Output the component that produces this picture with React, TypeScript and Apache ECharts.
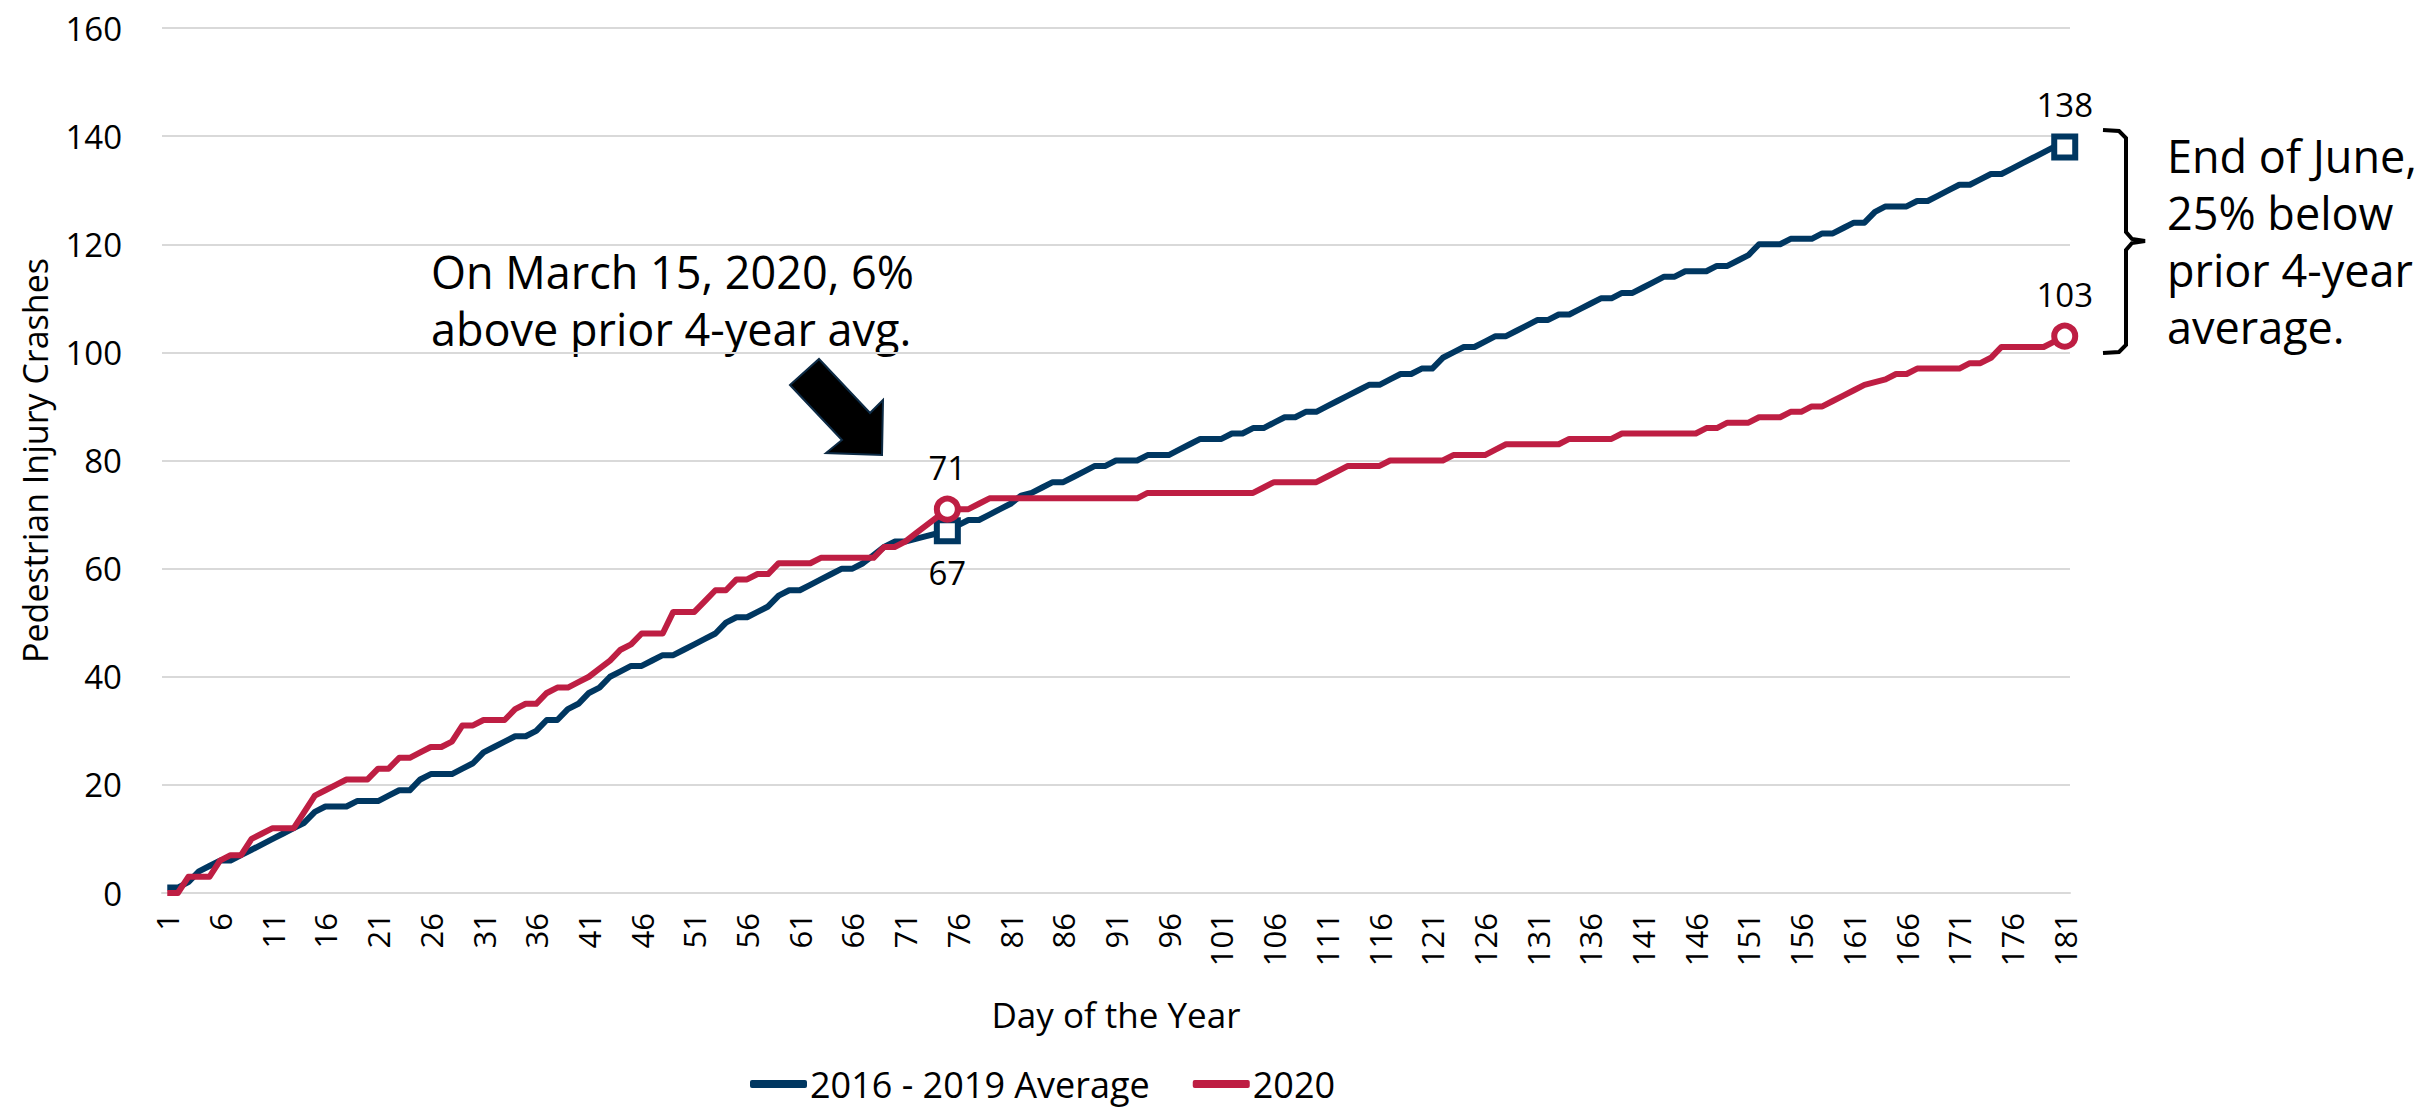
import React, { useEffect, useRef } from "react";
import * as echarts from "echarts";

// Day-of-year categories (1..181)
const days: string[] = Array.from({ length: 181 }, (_, i) => String(i + 1));

// Cumulative pedestrian injury crashes, 2016-2019 average
const avg2016to2019: number[] = [
  1, 1, 2, 4, 5, 6, 6, 7, 8, 9,
  10, 11, 12, 13, 15, 16, 16, 16, 17, 17,
  17, 18, 19, 19, 21, 22, 22, 22, 23, 24,
  26, 27, 28, 29, 29, 30, 32, 32, 34, 35,
  37, 38, 40, 41, 42, 42, 43, 44, 44, 45,
  46, 47, 48, 50, 51, 51, 52, 53, 55, 56,
  56, 57, 58, 59, 60, 60, 61, 62.5, 64, 65,
  65, 65.5, 66, 66.5, 67, 68, 69, 69, 70, 71,
  72, 73.5, 74, 75, 76, 76, 77, 78, 79, 79,
  80, 80, 80, 81, 81, 81, 82, 83, 84, 84,
  84, 85, 85, 86, 86, 87, 88, 88, 89, 89,
  90, 91, 92, 93, 94, 94, 95, 96, 96, 97,
  97, 99, 100, 101, 101, 102, 103, 103, 104, 105,
  106, 106, 107, 107, 108, 109, 110, 110, 111, 111,
  112, 113, 114, 114, 115, 115, 115, 116, 116, 117,
  118, 120, 120, 120, 121, 121, 121, 122, 122, 123,
  124, 124, 126, 127, 127, 127, 128, 128, 129, 130,
  131, 131, 132, 133, 133, 134, 135, 136, 137, 138,
  138,
];

// Cumulative pedestrian injury crashes, 2020
const year2020: number[] = [
  0, 0, 3, 3, 3, 6, 7, 7, 10, 11,
  12, 12, 12, 15, 18, 19, 20, 21, 21, 21,
  23, 23, 25, 25, 26, 27, 27, 28, 31, 31,
  32, 32, 32, 34, 35, 35, 37, 38, 38, 39,
  40, 41.5, 43, 45, 46, 48, 48, 48, 52, 52,
  52, 54, 56, 56, 58, 58, 59, 59, 61, 61,
  61, 61, 62, 62, 62, 62, 62, 62, 64, 64,
  65, 66.5, 68, 69.5, 71, 71, 71, 72, 73, 73,
  73, 73, 73, 73, 73, 73, 73, 73, 73, 73,
  73, 73, 73, 74, 74, 74, 74, 74, 74, 74,
  74, 74, 74, 74, 75, 76, 76, 76, 76, 76,
  77, 78, 79, 79, 79, 79, 80, 80, 80, 80,
  80, 80, 81, 81, 81, 81, 82, 83, 83, 83,
  83, 83, 83, 84, 84, 84, 84, 84, 85, 85,
  85, 85, 85, 85, 85, 85, 86, 86, 87, 87,
  87, 88, 88, 88, 89, 89, 90, 90, 91, 92,
  93, 94, 94.5, 95, 96, 96, 97, 97, 97, 97,
  97, 98, 98, 99, 101, 101, 101, 101, 101, 102,
  103,
];

const seriesNames: string[] = ["2016 - 2019 Average", "2020"];
const highlightDays: number[] = [75, 181];
const yMin = 0;
const yMax = 160;
const yInterval = 20;

const BLUE = "#003761";
const RED = "#BE1E43";
const FONT = "'Open Sans', 'Noto Sans', sans-serif";

function buildData(values: number[], color: string, symbol: string, labelPosFor75: string) {
  return values.map((v, i) => {
    const day = i + 1;
    if (highlightDays.includes(day)) {
      return {
        value: v,
        symbol,
        symbolSize: 21,
        itemStyle: { color: "#ffffff", borderColor: color, borderWidth: 6 },
        label: {
          show: true,
          position: day === 75 ? labelPosFor75 : "top",
          distance: 12,
          fontSize: 33,
          fontFamily: FONT,
          color: "#000",
        },
      };
    }
    return { value: v, symbol: "none" };
  });
}

export default function App() {
  const ref = useRef<HTMLDivElement>(null);

  useEffect(() => {
    if (!ref.current) return;
    const chart = echarts.init(ref.current, undefined, { renderer: "svg" });
    const option: any = {
      animation: false,
      backgroundColor: "#ffffff",
      textStyle: { fontFamily: FONT },
      grid: { left: 162, right: 363, top: 28, bottom: 216, containLabel: false },
      legend: {
        data: seriesNames,
        left: 745,
        top: 1061,
        icon: "roundRect",
        itemWidth: 57,
        itemHeight: 8,
        itemGap: 43,
        textStyle: { fontSize: 36, color: "#000", fontFamily: FONT, padding: [0, 0, 0, -2] },
      },
      xAxis: {
        type: "category",
        data: days,
        boundaryGap: true,
        name: "Day of the Year",
        nameLocation: "middle",
        nameGap: 104,
        nameTextStyle: { fontSize: 35, color: "#000", fontFamily: FONT },
        axisTick: { show: false },
        axisLine: { lineStyle: { color: "#D9D9D9", width: 2 } },
        axisLabel: { interval: 4, rotate: 90, fontSize: 31, margin: 20, color: "#000", fontFamily: FONT },
        splitLine: { show: false },
      },
      yAxis: {
        type: "value",
        min: yMin,
        max: yMax,
        interval: yInterval,
        name: "Pedestrian Injury Crashes",
        nameLocation: "middle",
        nameGap: 110,
        nameTextStyle: { fontSize: 34, color: "#000", fontFamily: FONT },
        axisLine: { show: false },
        axisTick: { show: false },
        axisLabel: { fontSize: 33, margin: 40, color: "#000", fontFamily: FONT },
        splitLine: { lineStyle: { color: "#D9D9D9", width: 2 } },
      },
      series: [
        {
          name: seriesNames[0],
          type: "line",
          color: BLUE,
          data: buildData(avg2016to2019, BLUE, "rect", "bottom"),
          showSymbol: true,
          showAllSymbol: true,
          lineStyle: { color: BLUE, width: 6, join: "round" },
          z: 3,
        },
        {
          name: seriesNames[1],
          type: "line",
          color: RED,
          data: buildData(year2020, RED, "circle", "top"),
          showSymbol: true,
          showAllSymbol: true,
          lineStyle: { color: RED, width: 6, join: "round" },
          z: 4,
        },
      ],
      graphic: [
        {
          type: "text",
          x: 431,
          y: 243,
          style: {
            text: "On March 15, 2020, 6%\nabove prior 4-year avg.",
            fill: "#000",
            fontSize: 45,
            fontFamily: FONT,
            lineHeight: 57,
            align: "left",
            verticalAlign: "top",
          },
        },
        {
          type: "polygon",
          shape: {
            points: [
              [790, 385],
              [819, 359],
              [870, 413],
              [883, 400],
              [882, 455],
              [826, 453],
              [842, 440],
            ],
          },
          style: { fill: "#000", stroke: "#0D2B45", lineWidth: 2 },
        },
        {
          type: "polyline",
          shape: {
            points: [
              [2103, 130],
              [2119, 131],
              [2126, 138],
              [2126, 232],
              [2132, 239],
              [2145, 241],
              [2132, 243],
              [2126, 250],
              [2126, 345],
              [2119, 352],
              [2103, 353],
            ],
          },
          style: { stroke: "#000", lineWidth: 4, fill: null },
        },
        {
          type: "text",
          x: 2167,
          y: 127,
          style: {
            text: "End of June,\n25% below\nprior 4-year\naverage.",
            fill: "#000",
            fontSize: 45,
            fontFamily: FONT,
            lineHeight: 57,
            align: "left",
            verticalAlign: "top",
          },
        },
      ],
    };
    chart.setOption(option);
    return () => chart.dispose();
  }, []);

  return (
    <div
      ref={ref}
      style={{ position: "fixed", left: 0, top: 0, width: 2433, height: 1109, background: "#fff" }}
    />
  );
}
